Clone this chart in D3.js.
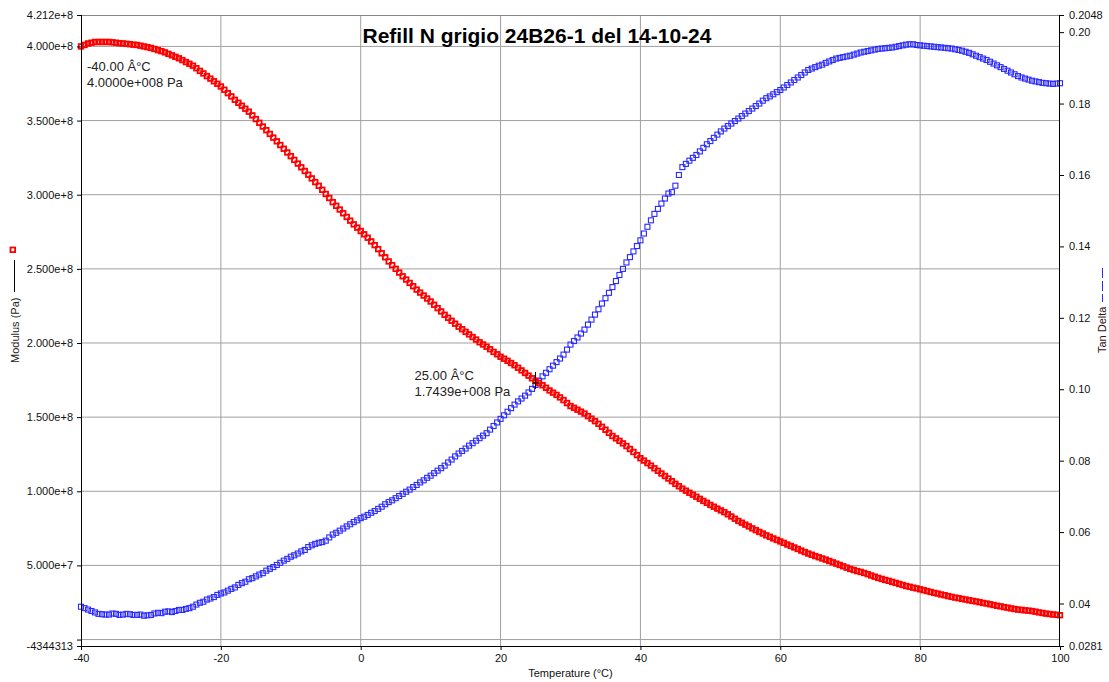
<!DOCTYPE html>
<html>
<head>
<meta charset="utf-8">
<script src="https://cdn.jsdelivr.net/npm/d3@7"></script>
<style>
  body { margin: 0; background: #fff; }
  svg { display: block; font-family: "Liberation Sans", Arial, sans-serif; }
  .grid line { stroke: #a0a0a0; stroke-width: 1; }
  .axis path, .axis line { stroke: #000; }
  .axis text { font-size: 11px; fill: #111; }
</style>
</head>
<body>
<div id="chart"></div>
<script>
// temperature (°C), one reading every half degree
const temperatures = [
  -40, -39.5, -39, -38.5, -38, -37.5, -37, -36.5, -36, -35.5,
  -35, -34.5, -34, -33.5, -33, -32.5, -32, -31.5, -31, -30.5,
  -30, -29.5, -29, -28.5, -28, -27.5, -27, -26.5, -26, -25.5,
  -25, -24.5, -24, -23.5, -23, -22.5, -22, -21.5, -21, -20.5,
  -20, -19.5, -19, -18.5, -18, -17.5, -17, -16.5, -16, -15.5,
  -15, -14.5, -14, -13.5, -13, -12.5, -12, -11.5, -11, -10.5,
  -10, -9.5, -9, -8.5, -8, -7.5, -7, -6.5, -6, -5.5,
  -5, -4.5, -4, -3.5, -3, -2.5, -2, -1.5, -1, -0.5,
  0, 0.5, 1, 1.5, 2, 2.5, 3, 3.5, 4, 4.5,
  5, 5.5, 6, 6.5, 7, 7.5, 8, 8.5, 9, 9.5,
  10, 10.5, 11, 11.5, 12, 12.5, 13, 13.5, 14, 14.5,
  15, 15.5, 16, 16.5, 17, 17.5, 18, 18.5, 19, 19.5,
  20, 20.5, 21, 21.5, 22, 22.5, 23, 23.5, 24, 24.5,
  25, 25.5, 26, 26.5, 27, 27.5, 28, 28.5, 29, 29.5,
  30, 30.5, 31, 31.5, 32, 32.5, 33, 33.5, 34, 34.5,
  35, 35.5, 36, 36.5, 37, 37.5, 38, 38.5, 39, 39.5,
  40, 40.5, 41, 41.5, 42, 42.5, 43, 43.5, 44, 44.5,
  45, 45.5, 46, 46.5, 47, 47.5, 48, 48.5, 49, 49.5,
  50, 50.5, 51, 51.5, 52, 52.5, 53, 53.5, 54, 54.5,
  55, 55.5, 56, 56.5, 57, 57.5, 58, 58.5, 59, 59.5,
  60, 60.5, 61, 61.5, 62, 62.5, 63, 63.5, 64, 64.5,
  65, 65.5, 66, 66.5, 67, 67.5, 68, 68.5, 69, 69.5,
  70, 70.5, 71, 71.5, 72, 72.5, 73, 73.5, 74, 74.5,
  75, 75.5, 76, 76.5, 77, 77.5, 78, 78.5, 79, 79.5,
  80, 80.5, 81, 81.5, 82, 82.5, 83, 83.5, 84, 84.5,
  85, 85.5, 86, 86.5, 87, 87.5, 88, 88.5, 89, 89.5,
  90, 90.5, 91, 91.5, 92, 92.5, 93, 93.5, 94, 94.5,
  95, 95.5, 96, 96.5, 97, 97.5, 98, 98.5, 99, 99.5,
  100,
]

// modulus, in units of 1e8 Pa
const modulus = [
  4.00, 4.01, 4.02, 4.025, 4.03, 4.03, 4.03, 4.03, 4.03, 4.028,
  4.025, 4.022, 4.02, 4.018, 4.015, 4.012, 4.01, 4.005, 4.00, 3.995,
  3.99, 3.983, 3.975, 3.968, 3.96, 3.95, 3.94, 3.93, 3.92, 3.908,
  3.895, 3.883, 3.87, 3.853, 3.835, 3.818, 3.80, 3.783, 3.765, 3.748,
  3.73, 3.708, 3.685, 3.663, 3.64, 3.62, 3.60, 3.58, 3.56, 3.535,
  3.51, 3.485, 3.46, 3.435, 3.41, 3.385, 3.36, 3.335, 3.31, 3.285,
  3.26, 3.235, 3.21, 3.185, 3.16, 3.135, 3.11, 3.085, 3.06, 3.033,
  3.005, 2.978, 2.95, 2.925, 2.90, 2.875, 2.85, 2.825, 2.80, 2.778,
  2.755, 2.733, 2.71, 2.685, 2.66, 2.633, 2.605, 2.578, 2.55, 2.525,
  2.50, 2.475, 2.45, 2.428, 2.405, 2.383, 2.36, 2.34, 2.32, 2.30,
  2.28, 2.258, 2.235, 2.213, 2.19, 2.17, 2.15, 2.13, 2.11, 2.093,
  2.075, 2.058, 2.04, 2.023, 2.005, 1.99, 1.975, 1.958, 1.94, 1.924,
  1.907, 1.894, 1.88, 1.865, 1.85, 1.833, 1.815, 1.798, 1.78, 1.762,
  1.744, 1.73, 1.715, 1.698, 1.68, 1.665, 1.65, 1.633, 1.615, 1.595,
  1.575, 1.563, 1.55, 1.537, 1.524, 1.507, 1.49, 1.473, 1.455, 1.435,
  1.415, 1.394, 1.373, 1.357, 1.34, 1.323, 1.305, 1.285, 1.265, 1.244,
  1.223, 1.207, 1.19, 1.173, 1.155, 1.138, 1.12, 1.103, 1.086, 1.068,
  1.05, 1.034, 1.018, 1.004, 0.99, 0.977, 0.963, 0.949, 0.935, 0.922,
  0.908, 0.896, 0.883, 0.871, 0.859, 0.845, 0.83, 0.815, 0.80, 0.788,
  0.775, 0.763, 0.75, 0.738, 0.726, 0.715, 0.703, 0.693, 0.682, 0.672,
  0.662, 0.652, 0.641, 0.631, 0.621, 0.611, 0.60, 0.59, 0.58, 0.572,
  0.563, 0.555, 0.547, 0.539, 0.53, 0.521, 0.512, 0.503, 0.494, 0.485,
  0.476, 0.469, 0.462, 0.456, 0.449, 0.441, 0.432, 0.424, 0.416, 0.409,
  0.402, 0.396, 0.389, 0.382, 0.375, 0.368, 0.361, 0.356, 0.35, 0.345,
  0.339, 0.333, 0.327, 0.321, 0.315, 0.31, 0.304, 0.299, 0.293, 0.288,
  0.283, 0.279, 0.274, 0.27, 0.265, 0.261, 0.257, 0.252, 0.247, 0.243,
  0.238, 0.233, 0.228, 0.224, 0.219, 0.215, 0.21, 0.206, 0.202, 0.20,
  0.197, 0.195, 0.192, 0.188, 0.183, 0.179, 0.175, 0.172, 0.169, 0.167,
  0.164,
]

const tanDelta = [
  0.0391, 0.0387, 0.0383, 0.0379, 0.0375, 0.0371, 0.0370, 0.0369, 0.0369, 0.0372,
  0.0371, 0.0368, 0.0369, 0.0371, 0.0370, 0.0368, 0.0368, 0.0369, 0.0366, 0.0367,
  0.0368, 0.0372, 0.0374, 0.0373, 0.0377, 0.0378, 0.0376, 0.0379, 0.0382, 0.0382,
  0.0385, 0.0387, 0.0391, 0.0397, 0.0402, 0.0405, 0.0411, 0.0414, 0.0418, 0.0424,
  0.0428, 0.0431, 0.0436, 0.0441, 0.0445, 0.0452, 0.0457, 0.0461, 0.0468, 0.0471,
  0.0476, 0.0481, 0.0485, 0.0492, 0.0497, 0.0502, 0.0508, 0.0514, 0.0520, 0.0525,
  0.0531, 0.0535, 0.0540, 0.0546, 0.0550, 0.0558, 0.0563, 0.0567, 0.0570, 0.0572,
  0.0576, 0.0585, 0.0593, 0.0598, 0.0604, 0.0610, 0.0616, 0.0622, 0.0628, 0.0633,
  0.0639, 0.0643, 0.0648, 0.0654, 0.0659, 0.0665, 0.0671, 0.0678, 0.0684, 0.0689,
  0.0695, 0.0701, 0.0707, 0.0713, 0.0719, 0.0726, 0.0732, 0.0739, 0.0745, 0.0752,
  0.0758, 0.0765, 0.0772, 0.0779, 0.0786, 0.0795, 0.0803, 0.0812, 0.0820, 0.0827,
  0.0834, 0.0842, 0.0849, 0.0856, 0.0863, 0.0870, 0.0877, 0.0887, 0.0897, 0.0907,
  0.0917, 0.0927, 0.0937, 0.0947, 0.0957, 0.0966, 0.0974, 0.0982, 0.0991, 0.1001,
  0.1012, 0.1024, 0.1036, 0.1046, 0.1056, 0.1066, 0.1076, 0.1086, 0.1097, 0.1111,
  0.1125, 0.1135, 0.1145, 0.1156, 0.1167, 0.1181, 0.1195, 0.1209, 0.1224, 0.1240,
  0.1255, 0.1270, 0.1286, 0.1303, 0.1320, 0.1337, 0.1355, 0.1370, 0.1386, 0.1401,
  0.1417, 0.1436, 0.1455, 0.1473, 0.1491, 0.1505, 0.1520, 0.1534, 0.1548, 0.1552,
  0.1570, 0.1600, 0.1622, 0.1631, 0.1640, 0.1648, 0.1656, 0.1666, 0.1676, 0.1686,
  0.1695, 0.1704, 0.1713, 0.1722, 0.1730, 0.1737, 0.1744, 0.1751, 0.1758, 0.1765,
  0.1772, 0.1779, 0.1786, 0.1793, 0.1800, 0.1808, 0.1815, 0.1820, 0.1826, 0.1832,
  0.1838, 0.1845, 0.1852, 0.1859, 0.1866, 0.1873, 0.1880, 0.1887, 0.1894, 0.1898,
  0.1902, 0.1906, 0.1909, 0.1914, 0.1918, 0.1922, 0.1926, 0.1928, 0.1930, 0.1932,
  0.1934, 0.1937, 0.1940, 0.1943, 0.1945, 0.1947, 0.1949, 0.1951, 0.1953, 0.1954,
  0.1955, 0.1956, 0.1957, 0.1959, 0.1961, 0.1963, 0.1965, 0.1966, 0.1966, 0.1964,
  0.1963, 0.1962, 0.1961, 0.1960, 0.1959, 0.1958, 0.1957, 0.1956, 0.1955, 0.1954,
  0.1952, 0.1950, 0.1948, 0.1945, 0.1942, 0.1938, 0.1934, 0.1930, 0.1926, 0.1922,
  0.1917, 0.1912, 0.1907, 0.1902, 0.1897, 0.1892, 0.1887, 0.1882, 0.1877, 0.1873,
  0.1870, 0.1867, 0.1864, 0.1862, 0.1860, 0.1858, 0.1857, 0.1856, 0.1855, 0.1856,
  0.1857,
]

const xTickValues = [-40, -20, 0, 20, 40, 60, 80, 100]
const leftTickValues = [-4344313, 0, 5e7, 1e8, 1.5e8, 2e8, 2.5e8, 3e8, 3.5e8, 4e8, 4.212e8]
const leftTickLabels = ["-4344313", "", "5.000e+7", "1.000e+8", "1.500e+8", "2.000e+8",
  "2.500e+8", "3.000e+8", "3.500e+8", "4.000e+8", "4.212e+8"]
const rightTickValues = [0.0281, 0.04, 0.06, 0.08, 0.10, 0.12, 0.14, 0.16, 0.18, 0.20, 0.2048]
const rightTickLabels = ["0.0281", "0.04", "0.06", "0.08", "0.10", "0.12", "0.14",
  "0.16", "0.18", "0.20", "0.2048"]

// cursor read-outs shown on the plot
const cursorTemps = [-40, 25]
const cursorModulus = [4.0000e8, 1.7439e8]
const cursorLabels = [["-40.00 Â°C", "4.0000e+008 Pa"], ["25.00 Â°C", "1.7439e+008 Pa"]]

const titleText = "Refill N grigio 24B26-1 del 14-10-24"

// 1. Access data
const dataset = temperatures.map((t, i) => ({
  temp: t,
  modulus: modulus[i] * 1e8,
  tan: tanDelta[i],
}))
const xAccessor = d => d.temp
const modAccessor = d => d.modulus
const tanAccessor = d => d.tan

// 2. Create chart dimensions
let dimensions = {
  width: 1109,
  height: 682,
  margin: { top: 15, right: 49, bottom: 36, left: 81 },
}
dimensions.boundedWidth = dimensions.width - dimensions.margin.left - dimensions.margin.right
dimensions.boundedHeight = dimensions.height - dimensions.margin.top - dimensions.margin.bottom

// 3. Draw canvas
const wrapper = d3.select("#chart")
  .append("svg")
    .attr("width", dimensions.width)
    .attr("height", dimensions.height)

const bounds = wrapper.append("g")
    .attr("transform", `translate(${dimensions.margin.left}, ${dimensions.margin.top})`)

// 4. Create scales
const xScale = d3.scaleLinear()
  .domain([-40, 100])
  .range([0, dimensions.boundedWidth])

const yScale = d3.scaleLinear()
  .domain([-4344313, 4.212e8])
  .range([dimensions.boundedHeight, 0])

const y2Scale = d3.scaleLinear()
  .domain([0.0281, 0.2048])
  .range([dimensions.boundedHeight, 0])

// grid
const grid = bounds.append("g").attr("class", "grid")
grid.selectAll(".hgrid")
  .data(leftTickValues.slice(1, -1))
  .join("line")
    .attr("x1", 0)
    .attr("x2", dimensions.boundedWidth)
    .attr("y1", d => yScale(d))
    .attr("y2", d => yScale(d))
grid.selectAll(".vgrid")
  .data(xTickValues.slice(1, -1))
  .join("line")
    .attr("class", "vgrid")
    .attr("x1", d => xScale(d))
    .attr("x2", d => xScale(d))
    .attr("y1", 0)
    .attr("y2", dimensions.boundedHeight)
grid.append("line")
    .attr("x1", 0)
    .attr("x2", dimensions.boundedWidth)
    .attr("y1", 0.5)
    .attr("y2", 0.5)
    .style("stroke", "#888")

// 5. Draw data
const tanSize = 5
bounds.append("g")
  .selectAll("rect")
  .data(dataset)
  .join("rect")
    .attr("x", d => xScale(xAccessor(d)) - tanSize / 2)
    .attr("y", d => y2Scale(tanAccessor(d)) - tanSize / 2)
    .attr("width", tanSize)
    .attr("height", tanSize)
    .attr("fill", "none")
    .attr("stroke", "#2a2aff")
    .attr("stroke-width", 1.1)

const modSize = 4.6
bounds.append("g")
  .selectAll("rect")
  .data(dataset)
  .join("rect")
    .attr("x", d => xScale(xAccessor(d)) - modSize / 2)
    .attr("y", d => yScale(modAccessor(d)) - modSize / 2)
    .attr("width", modSize)
    .attr("height", modSize)
    .attr("fill", "none")
    .attr("stroke", "#ff0000")
    .attr("stroke-width", 1.8)

// cursor cross and read-outs
cursorTemps.forEach((t, i) => {
  const cx = xScale(t)
  const cy = yScale(cursorModulus[i])
  if (i > 0) {
    bounds.append("line")
        .attr("x1", cx).attr("x2", cx)
        .attr("y1", cy - 9).attr("y2", cy + 8)
        .attr("stroke", "#000")
    bounds.append("line")
        .attr("x1", cx - 3).attr("x2", cx + 3)
        .attr("y1", cy + 2).attr("y2", cy + 2)
        .attr("stroke", "#000")
  }
  const tx = i === 0 ? cx + 6 : cx - 121
  const ty = i === 0 ? cy + 25 : cy - 1
  const label = bounds.append("text")
      .attr("x", tx)
      .attr("y", ty)
      .style("font-size", "13px")
      .style("fill", "#222")
  label.selectAll("tspan")
    .data(cursorLabels[i])
    .join("tspan")
      .attr("x", tx)
      .attr("dy", (d, j) => j === 0 ? 0 : 16)
      .text(d => d)
})

// 6. Draw peripherals
const xAxisGenerator = d3.axisBottom(xScale)
  .tickValues(xTickValues)
  .tickSize(4)
  .tickPadding(4)
  .tickFormat(d => String(d))
bounds.append("g")
    .attr("class", "axis x-axis")
    .attr("transform", `translate(0, ${dimensions.boundedHeight})`)
  .call(xAxisGenerator)
  .call(g => g.select(".domain").attr("d", `M0,0.5H${dimensions.boundedWidth}`))

bounds.append("text")
    .attr("x", dimensions.boundedWidth / 2)
    .attr("y", dimensions.boundedHeight + 31)
    .attr("text-anchor", "middle")
    .style("font-size", "11px")
    .style("fill", "#111")
    .text("Temperature (°C)")

const yAxisGenerator = d3.axisLeft(yScale)
  .tickValues(leftTickValues)
  .tickSize(4)
  .tickPadding(4)
  .tickFormat((d, i) => leftTickLabels[i])
bounds.append("g")
    .attr("class", "axis y-axis")
  .call(yAxisGenerator)
  .call(g => g.select(".domain").attr("d", `M0.5,0V${dimensions.boundedHeight}`))

const y2AxisGenerator = d3.axisRight(y2Scale)
  .tickValues(rightTickValues)
  .tickSize(4)
  .tickPadding(5)
  .tickFormat((d, i) => rightTickLabels[i])
bounds.append("g")
    .attr("class", "axis y2-axis")
    .attr("transform", `translate(${dimensions.boundedWidth}, 0)`)
  .call(y2AxisGenerator)
  .call(g => g.select(".domain").attr("d", `M-0.5,0V${dimensions.boundedHeight}`))

// title
wrapper.append("text")
    .attr("x", 537)
    .attr("y", 43)
    .attr("text-anchor", "middle")
    .style("font-size", "21px")
    .style("font-weight", "bold")
    .style("fill", "#000")
    .text(titleText)

// left axis legend: marker, line, label
const leftLegend = wrapper.append("g")
leftLegend.append("rect")
    .attr("x", 10.5).attr("y", 247.5)
    .attr("width", 4.6).attr("height", 4.6)
    .attr("fill", "none")
    .attr("stroke", "#ff0000")
    .attr("stroke-width", 1.8)
leftLegend.append("line")
    .attr("x1", 14.5).attr("x2", 14.5)
    .attr("y1", 260).attr("y2", 292)
    .attr("stroke", "#000")
leftLegend.append("text")
    .attr("transform", "translate(19, 363) rotate(-90)")
    .style("font-size", "11px")
    .style("fill", "#222")
    .text("Modulus (Pa)")

// right axis legend: dashed line, label
const rightLegend = wrapper.append("g")
rightLegend.append("line")
    .attr("x1", 1102.5).attr("x2", 1102.5)
    .attr("y1", 268).attr("y2", 302)
    .attr("stroke", "#2a2aff")
    .attr("stroke-dasharray", "10,3")
rightLegend.append("text")
    .attr("transform", "translate(1106, 353) rotate(-90)")
    .style("font-size", "11px")
    .style("fill", "#301010")
    .text("Tan Delta")
</script>
</body>
</html>
